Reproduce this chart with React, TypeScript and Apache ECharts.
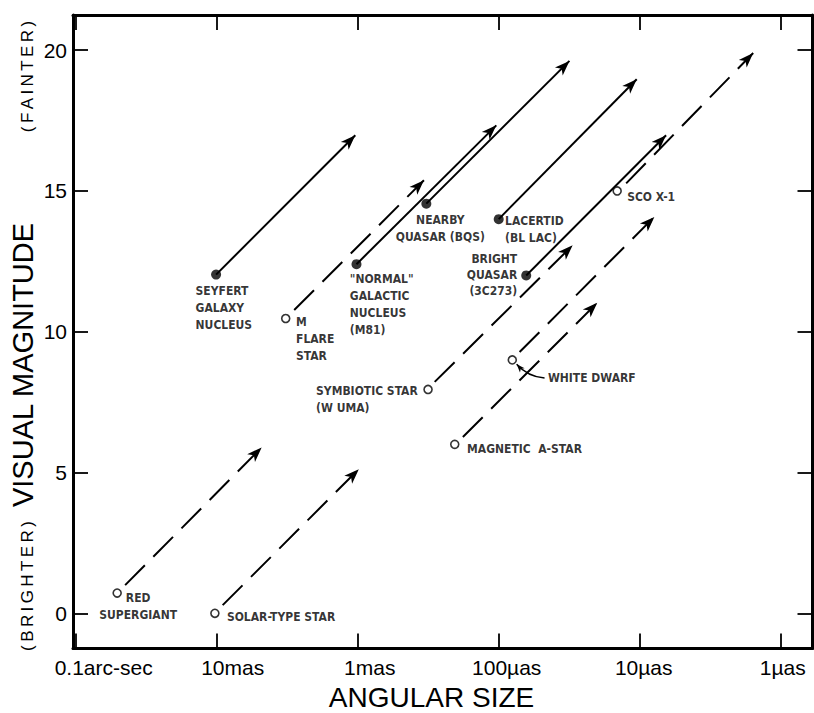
import React, { useEffect, useRef } from 'react';
import * as echarts from 'echarts';

// ---------- data ----------
const objectNames = [
  'RED\nSUPERGIANT',
  'SOLAR-TYPE STAR',
  'SEYFERT\nGALAXY\nNUCLEUS',
  'M\nFLARE\nSTAR',
  '"NORMAL"\nGALACTIC\nNUCLEUS\n(M81)',
  'NEARBY\nQUASAR (BQS)',
  'LACERTID\n(BL LAC)',
  'BRIGHT\nQUASAR\n(3C273)',
  'SCO X-1',
  'SYMBIOTIC STAR\n(W UMA)',
  'WHITE DWARF',
  'MAGNETIC  A-STAR',
];
// angular size in milli-arcseconds
const angularSizeMas = [50.8, 10.3, 10.1, 3.24, 1.02, 0.326, 0.1, 0.0638, 0.01445, 0.317, 0.0801, 0.205];
const visualMagnitude = [0.72, 0, 12.03, 10.47, 12.4, 14.55, 14, 12, 15, 7.95, 9, 6];
const isFilled = [false, false, true, false, true, true, true, true, false, false, false, false];

// arrows: object moved 10x farther away
const arrowStartMas = [44.6, 9.07, 10.1, 2.82, 1.02, 0.326, 0.1, 0.0638, 0.01247, 0.2844, 0.0711, 0.1795];
const arrowStartMag = [1.0, 0.29, 12.03, 10.77, 12.4, 14.55, 14, 12, 15.27, 8.22, 9.28, 6.26];
const arrowEndMas = [4.8, 0.982, 1.04, 0.339, 0.104, 0.0315, 0.0105, 0.0065, 0.001567, 0.0299, 0.00787, 0.02];
const arrowEndMag = [5.89, 5.12, 16.98, 15.38, 17.33, 19.62, 18.97, 16.98, 19.9, 13.07, 14.08, 11.03];

// leader from "WHITE DWARF" label to its point
const leaderMas = [0.0473, 0.0746];
const leaderMag = [8.36, 8.85];

const xTickValues = [100, 10, 1, 0.1, 0.01, 0.001];
const xTickLabels = ['0.1arc-sec', '10mas', '1mas', '100µas', '10µas', '1µas'];
const yTickValues = [0, 5, 10, 15, 20];

const xAxisTitle = 'ANGULAR SIZE';
const yAxisTitle = 'VISUAL MAGNITUDE';
const yAxisFaint = '(\u2009F\u2009A\u2009I\u2009N\u2009T\u2009E\u2009R\u2009)';
const yAxisBright = '(\u2009B\u2009R\u2009I\u2009G\u2009H\u2009T\u2009E\u2009R\u2009)';

// axis ranges
const xAxisMin = 0.000595;
const xAxisMax = 104.5;
const yAxisMin = -1.25;
const yAxisMax = 21.25;

// ---------- styling / layout ----------
// label placement relative to each point: [dx, dy, align, verticalAlign, lineHeight]
const labelLayout: [number, number, string, string, number][] = [
  [21, -3.8, 'center', 'top', 17],
  [12, 3.5, 'left', 'middle', 17],
  [-20.5, 8.2, 'left', 'top', 17],
  [10.3, -5.3, 'left', 'top', 17],
  [-6.7, 6, 'left', 'top', 17],
  [14, 8.2, 'center', 'top', 16.5],
  [6.3, -6.8, 'left', 'top', 17],
  [-9, -24.5, 'right', 'top', 16],
  [10, 5.7, 'left', 'middle', 17],
  [-112, -6.8, 'left', 'top', 17],
  [35.6, 17.7, 'left', 'middle', 17],
  [12.3, 4.7, 'left', 'middle', 17],
];
const xLabelShift = [28, 16, 12, 8, 4, 2];

const AXIS_FONT = "'Liberation Sans', Arial, sans-serif";
const NOTE_FONT = "'Liberation Sans Narrow', 'DejaVu Sans Condensed', 'Liberation Sans', sans-serif";
const ARROW = 'path://M0,0M32,32M16,16L21.5,31L16,27L10.5,31Z';

function buildOption() {
  const axisLine = { show: true, onZero: false, lineStyle: { color: '#000', width: 3 } };
  const axisTick = { show: true, inside: true, length: 15, lineStyle: { color: '#000', width: 1.8 } };

  const xBase = {
    type: 'log',
    logBase: 10,
    inverse: true,
    min: xAxisMin,
    max: xAxisMax,
    axisLine,
    axisTick,
    splitLine: { show: false },
    minorTick: { show: false },
  };
  const yBase = {
    type: 'value',
    min: yAxisMin,
    max: yAxisMax,
    axisLine,
    axisTick,
    splitLine: { show: false },
  };

  const rich: Record<string, any> = {};
  xLabelShift.forEach((s, i) => {
    rich['t' + i] = { padding: [0, 0, 0, 2 * s], fontSize: 21, fontFamily: AXIS_FONT, color: '#000' };
  });

  const solid: any[] = [];
  const dashed: any[] = [];
  objectNames.forEach((_, i) => {
    const item = {
      coords: [
        [arrowStartMas[i], arrowStartMag[i]],
        [arrowEndMas[i], arrowEndMag[i]],
      ],
    };
    (isFilled[i] ? solid : dashed).push(item);
  });

  const points = objectNames.map((name, i) => {
    const [dx, dy, align, va, lh] = labelLayout[i];
    return {
      value: [angularSizeMas[i], visualMagnitude[i]],
      symbolSize: isFilled[i] ? 10 : 8,
      itemStyle: isFilled[i]
        ? { color: '#000', borderColor: '#000', borderWidth: 0 }
        : { color: '#fff', borderColor: '#000', borderWidth: 1.6 },
      label: {
        show: true,
        formatter: name,
        position: 'inside',
        offset: [dx, dy],
        align,
        verticalAlign: va,
        lineHeight: lh,
        color: '#000',
        textBorderWidth: 0,
        fontSize: 12,
        fontWeight: 'bold',
        fontFamily: NOTE_FONT,
      },
    };
  });

  return {
    animation: false,
    grid: { left: 73, right: 1.5, top: 15, bottom: 64.5, containLabel: false, outerBoundsMode: 'none' },
    xAxis: [
      {
        ...xBase,
        position: 'bottom',
        axisLabel: {
          show: true,
          margin: 8,
          color: '#000',
          fontSize: 21,
          fontFamily: AXIS_FONT,
          formatter: (v: number) => {
            const k = xTickValues.findIndex((t) => Math.abs(Math.log10(v) - Math.log10(t)) < 1e-6);
            return k < 0 ? '' : `{t${k}|${xTickLabels[k]}}`;
          },
          rich,
        },
      },
      { ...xBase, position: 'top', axisLabel: { show: false } },
    ],
    yAxis: [
      {
        ...yBase,
        position: 'left',
        axisLabel: {
          show: true,
          margin: 6,
          color: '#000',
          fontSize: 21,
          fontFamily: AXIS_FONT,
          formatter: (v: number) => {
            const k = yTickValues.findIndex((t) => Math.abs(t - v) < 1e-6);
            return k < 0 ? '' : String(yTickValues[k]);
          },
        },
      },
      { ...yBase, position: 'right', axisLabel: { show: false } },
    ],
    series: [
      {
        type: 'lines',
        coordinateSystem: 'cartesian2d',
        xAxisIndex: 0,
        yAxisIndex: 0,
        z: 2,
        symbol: ['none', ARROW],
        symbolSize: 32,
        lineStyle: { color: '#000', width: 2, type: 'solid', opacity: 1 },
        data: solid,
      },
      {
        type: 'lines',
        coordinateSystem: 'cartesian2d',
        xAxisIndex: 0,
        yAxisIndex: 0,
        z: 2,
        symbol: ['none', ARROW],
        symbolSize: 32,
        lineStyle: { color: '#000', width: 2, type: [28, 12], opacity: 1 },
        data: dashed,
      },
      {
        type: 'lines',
        coordinateSystem: 'cartesian2d',
        xAxisIndex: 0,
        yAxisIndex: 0,
        z: 2,
        symbol: ['none', ARROW],
        symbolSize: 18,
        lineStyle: { color: '#000', width: 1.5, type: 'solid', opacity: 1, curveness: 0.2 },
        data: [
          {
            coords: [
              [leaderMas[0], leaderMag[0]],
              [leaderMas[1], leaderMag[1]],
            ],
          },
        ],
      },
      {
        type: 'scatter',
        xAxisIndex: 0,
        yAxisIndex: 0,
        z: 3,
        symbol: 'circle',
        data: points,
      },
    ],
    graphic: [
      {
        type: 'text',
        x: 431.5,
        y: 697,
        style: { text: xAxisTitle, fontSize: 28, fontFamily: AXIS_FONT, fill: '#000', align: 'center', verticalAlign: 'middle' },
      },
      {
        type: 'text',
        x: 23,
        y: 365,
        rotation: Math.PI / 2,
        style: { text: yAxisTitle, fontSize: 29, fontFamily: AXIS_FONT, fill: '#000', align: 'center', verticalAlign: 'middle' },
      },
      {
        type: 'text',
        x: 27.5,
        y: 76.5,
        rotation: Math.PI / 2,
        style: { text: yAxisFaint, fontSize: 17, fontFamily: AXIS_FONT, fill: '#000', align: 'center', verticalAlign: 'middle' },
      },
      {
        type: 'text',
        x: 27.5,
        y: 586,
        rotation: Math.PI / 2,
        style: { text: yAxisBright, fontSize: 17, fontFamily: AXIS_FONT, fill: '#000', align: 'center', verticalAlign: 'middle' },
      },
    ],
  };
}

export default function App() {
  const ref = useRef<HTMLDivElement>(null);
  useEffect(() => {
    if (!ref.current) return;
    const chart = echarts.init(ref.current, undefined, { renderer: 'svg' });
    chart.setOption(buildOption() as any);
    return () => chart.dispose();
  }, []);
  return (
    <div
      ref={ref}
      style={{ position: 'absolute', left: 0, top: 0, width: 814, height: 713, background: '#fff' }}
    />
  );
}
